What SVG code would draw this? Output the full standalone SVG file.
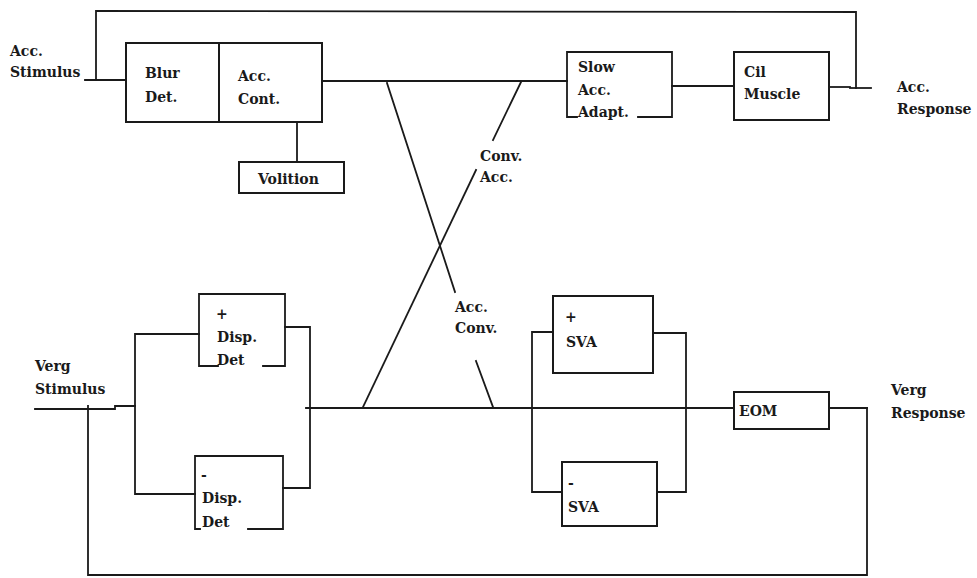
<svg xmlns="http://www.w3.org/2000/svg" width="977" height="578" viewBox="0 0 977 578">
<style>
.ln{fill:none;stroke:#1a1a1a;stroke-width:1.8;stroke-linecap:square}
.bx{fill:#fff;stroke:#1a1a1a;stroke-width:2}
text{font-family:"DejaVu Serif","Liberation Serif",serif;font-weight:bold;font-size:14px;fill:#1a1a1a}
</style>
<rect width="977" height="578" fill="#fff"/>
<g id="connectors">
<polyline class="ln" points="85,80 126,80"/>
<polyline class="ln" points="96,80 96,11 856,12 856,88"/>
<polyline class="ln" points="850,88 871,88"/>
<polyline class="ln" points="322,81 567,81"/>
<polyline class="ln" points="297,122 297,162"/>
<polyline class="ln" points="672,86 734,86"/>
<polyline class="ln" points="829,87 850,87"/>
<line class="ln" x1="387" y1="83" x2="455" y2="292"/>
<line class="ln" x1="476" y1="361" x2="493" y2="407"/>
<line class="ln" x1="521" y1="82" x2="493" y2="140"/>
<line class="ln" x1="476" y1="170" x2="363" y2="407"/>
<polyline class="ln" points="35,409 115,409 115,406 135,406"/>
<polyline class="ln" points="88,406 88,575 867,575 867,408"/>
<polyline class="ln" points="199,334 135,334 135,494 195,494"/>
<polyline class="ln" points="285,327 310,327 310,488 283,488"/>
<polyline class="ln" points="306,408 734,408"/>
<polyline class="ln" points="553,332 532,332 532,492 562,492"/>
<polyline class="ln" points="653,333 686,333 686,492 657,492"/>
<polyline class="ln" points="829,408 867,408"/>
</g>
<g id="acc-stimulus">
<text x="10" y="56">Acc.</text>
<text x="10" y="77">Stimulus</text>
</g>
<g id="blur-det">
<rect class="bx" x="126" y="43" width="93" height="79"/>
<text x="145" y="78">Blur</text>
<text x="145" y="102">Det.</text>
</g>
<g id="acc-cont">
<rect class="bx" x="219" y="43" width="103" height="79"/>
<text x="238" y="81">Acc.</text>
<text x="238" y="104">Cont.</text>
</g>
<g id="volition">
<rect class="bx" x="239" y="162" width="105" height="31"/>
<text x="258" y="184">Volition</text>
</g>
<g id="slow-acc-adapt">
<polyline class="ln" points="577,117 567,117 567,52 672,52 672,117 638,117"/>
<text x="578" y="72">Slow</text>
<text x="578" y="95">Acc.</text>
<text x="578" y="117">Adapt.</text>
</g>
<g id="cil-muscle">
<rect class="bx" x="734" y="52" width="95" height="68"/>
<text x="744" y="77">Cil</text>
<text x="744" y="99">Muscle</text>
</g>
<g id="acc-response">
<text x="897" y="92">Acc.</text>
<text x="897" y="114">Response</text>
</g>
<g id="conv-acc">
<text x="480" y="161">Conv.</text>
<text x="480" y="182">Acc.</text>
</g>
<g id="acc-conv">
<text x="455" y="312">Acc.</text>
<text x="455" y="333">Conv.</text>
</g>
<g id="verg-stimulus">
<text x="35" y="371">Verg</text>
<text x="35" y="394">Stimulus</text>
</g>
<g id="pos-disp-det">
<polyline class="ln" points="218,366 199,366 199,294 285,294 285,366 263,366"/>
<text x="216" y="319">+</text>
<text x="217" y="342">Disp.</text>
<text x="217" y="365">Det</text>
</g>
<g id="neg-disp-det">
<polyline class="ln" points="200,529 195,529 195,456 283,456 283,529 248,529"/>
<text x="201" y="480">-</text>
<text x="202" y="503">Disp.</text>
<text x="202" y="527">Det</text>
</g>
<g id="pos-sva">
<rect class="bx" x="553" y="296" width="100" height="77"/>
<text x="565" y="322">+</text>
<text x="566" y="347">SVA</text>
</g>
<g id="neg-sva">
<rect class="bx" x="562" y="462" width="95" height="64"/>
<text x="568" y="488">-</text>
<text x="568" y="512">SVA</text>
</g>
<g id="eom">
<rect class="bx" x="734" y="392" width="95" height="37"/>
<text x="739" y="416">EOM</text>
</g>
<g id="verg-response">
<text x="891" y="395">Verg</text>
<text x="891" y="418">Response</text>
</g>
</svg>
